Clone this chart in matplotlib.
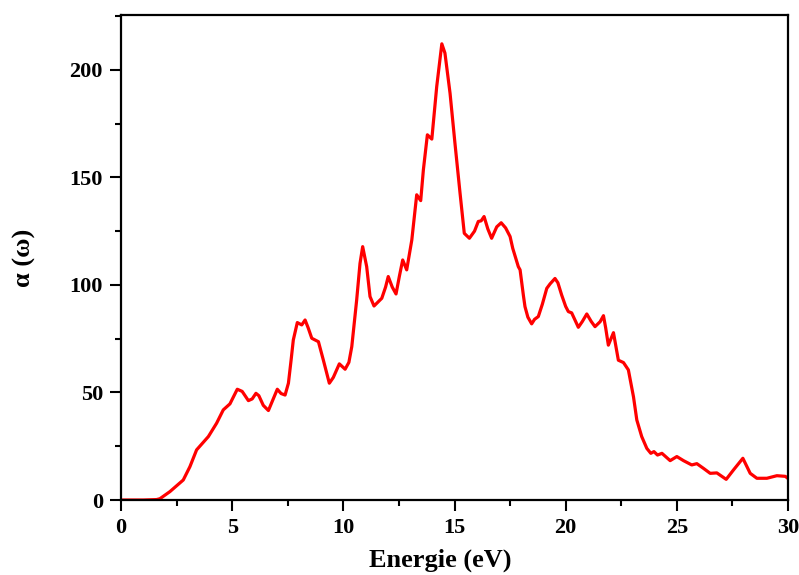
import matplotlib
matplotlib.use("Agg")
import matplotlib.pyplot as plt
from matplotlib.ticker import MultipleLocator

# absorption coefficient vs photon energy
energy = [0.0, 1.0, 1.6, 1.75, 2.2, 2.8, 3.1, 3.4, 3.93, 4.3, 4.6, 4.9,
          5.23, 5.45, 5.73, 5.9, 6.07, 6.2, 6.4, 6.63, 6.85, 7.03, 7.2, 7.38,
          7.53, 7.65, 7.75, 7.93, 8.13, 8.28, 8.42, 8.58, 8.88, 9.1, 9.37, 9.55,
          9.82, 10.08, 10.25, 10.38, 10.6, 10.75, 10.87, 11.05, 11.2, 11.38,
          11.73, 11.9, 12.02, 12.2, 12.37, 12.52, 12.67, 12.85, 13.08, 13.3,
          13.48, 13.6, 13.78, 13.98, 14.2, 14.43, 14.57, 14.8, 15.02, 15.25,
          15.44, 15.67, 15.9, 16.07, 16.2, 16.33, 16.5, 16.67, 16.9, 17.1,
          17.3, 17.5, 17.62, 17.87, 17.95, 18.1, 18.17, 18.3, 18.47, 18.6,
          18.77, 18.95, 19.15, 19.3, 19.52, 19.65, 19.82, 20.0, 20.12, 20.27,
          20.57, 20.75, 20.95, 21.15, 21.32, 21.55, 21.7, 21.8, 21.92, 22.15,
          22.37, 22.6, 22.82, 23.05, 23.2, 23.42, 23.65, 23.83, 23.97, 24.13,
          24.33, 24.7, 25.0, 25.3, 25.67, 25.9, 26.2, 26.5, 26.8, 27.22, 27.55,
          27.97, 28.3, 28.6, 29.05, 29.5, 29.88, 30.0]
alpha = [0, 0, 0.2, 0.6, 3.9, 9.3, 15.5, 23.3, 29.5, 35.7, 41.9, 44.7,
         51.5, 50.5, 46.2, 47, 49.6, 48.5, 44, 41.6, 47, 51.5, 49.5, 48.8,
         54.3, 65, 74.4, 82.5, 81.4, 83.7, 80, 75.2, 73.6, 65.1, 54.3, 57,
         63.3, 60.8, 64, 71.3, 93, 110, 117.8, 108.5, 94.6, 90.2,
         93.8, 99, 103.9, 99, 95.8, 104, 111.6, 107, 120.9, 141.9,
         139.2, 153.5, 169.8, 167.8, 192.2, 212.1, 207.8, 189.1, 165.9, 142.6,
         124, 121.7, 125, 129.5, 129.8, 131.8, 126, 121.7, 127, 128.9,
         126.5, 122.5, 117, 108.5, 107, 95, 89.9, 85, 81.9, 84,
         85.3, 91, 98.4, 100.5, 103, 101, 95.3, 90, 87.6, 87,
         80.3, 83, 86.5, 83, 80.6, 82.9, 85.7, 80, 72, 77.8,
         65, 63.9, 60.5, 48, 37.2, 29.5, 24, 21.7, 22.5, 20.9,
         21.7, 18.3, 20.2, 18.3, 16.3, 16.9, 14.7, 12.4, 12.6, 9.6, 14,
         19.4, 12.4, 10.1, 10.1, 11.3, 11, 10]

plt.rcParams['font.family'] = ['Liberation Serif', 'DejaVu Serif']
plt.rcParams['font.weight'] = 'bold'

fig = plt.figure(figsize=(7.99, 5.75), dpi=100)
ax = fig.add_axes([121 / 799, 75 / 575, 667 / 799, 485 / 575])

ax.plot(energy, alpha, color='#ff0000', linewidth=2.3, solid_joinstyle='round')

ax.set_xlim(0, 30)
ax.set_ylim(0, 225.5)
ax.xaxis.set_major_locator(MultipleLocator(5))
ax.xaxis.set_minor_locator(MultipleLocator(2.5))
ax.yaxis.set_major_locator(MultipleLocator(50))
ax.yaxis.set_minor_locator(MultipleLocator(25))
ax.tick_params(which='both', direction='out', width=1.5, top=False, right=False,
               labelsize=16, pad=5)
ax.tick_params(which='major', length=8)
ax.tick_params(which='minor', length=4.5)
for s in ax.spines.values():
    s.set_linewidth(1.6)

ax.set_xlabel("Energie (eV)", fontsize=19, fontweight='bold', va='top')
ax.set_ylabel("α (ω)", fontsize=19, fontweight='bold')
ax.xaxis.set_label_coords((440 - 121) / 667, -(549 - 500) / 485)
ax.yaxis.set_label_coords(-(121 - 36) / 667, 0.5)

fig.savefig("out.png", dpi=100)
